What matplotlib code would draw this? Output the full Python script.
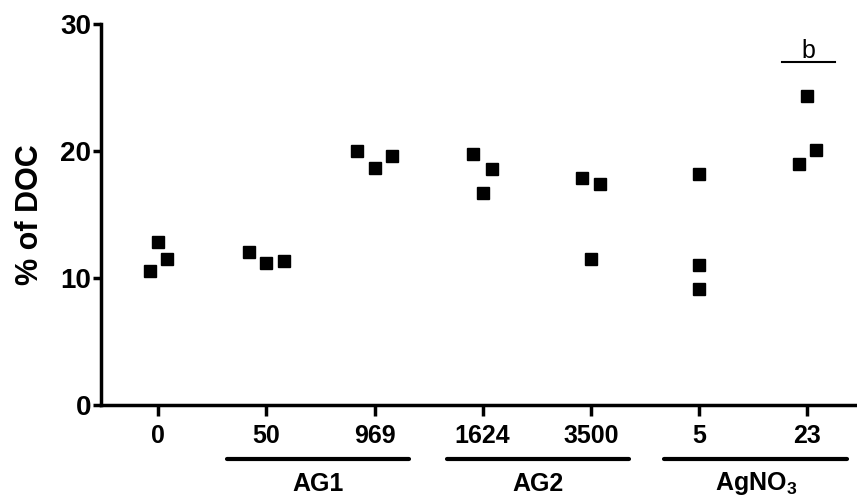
import matplotlib
matplotlib.use('Agg')
import matplotlib.pyplot as plt
import matplotlib.transforms as mtransforms

plt.rcParams['font.family'] = ['Liberation Sans', 'DejaVu Sans']
plt.rcParams['mathtext.fontset'] = 'custom'
plt.rcParams['mathtext.bf'] = 'Liberation Sans:bold'
plt.rcParams['mathtext.rm'] = 'Liberation Sans'

# Data
doses = ['0', '50', '969', '1624', '3500', '5', '23']
values = [
    [10.55, 12.83, 11.49],
    [12.0, 11.21, 11.31],
    [19.98, 18.62, 19.62],
    [19.77, 18.56, 16.71],
    [17.86, 17.42, 11.52],
    [18.15, 11.0, 9.11],
    [24.35, 20.09, 18.99],
]
# horizontal jitter of the replicate points (in category units)
offsets = [
    [-0.075, 0.0, 0.085],
    [-0.16, 0.0, 0.165],
    [-0.16, 0.0, 0.16],
    [-0.085, 0.085, 0.0],
    [-0.085, 0.085, 0.0],
    [0.0, 0.0, 0.0],
    [0.0, 0.085, -0.075],
]
groups = ['AG1', 'AG2', 'AgNO$_\\mathbf{3}$']
group_spans = [(0.64, 2.32), (2.67, 4.35), (4.68, 6.37)]
sig_label = 'b'
sig_span = (5.77, 6.26)
sig_y = 27.0

fig = plt.figure(figsize=(8.57, 4.98), dpi=100)
ax = fig.add_axes([0.118, 0.187, 0.882, 0.765])

for i, (vals, offs) in enumerate(zip(values, offsets)):
    xs = [i + o for o in offs]
    ax.plot(xs, vals, 's', color='black', markersize=8.5, linestyle='none',
            clip_on=False)

ax.set_xlim(-0.527, 6.46)
ax.set_ylim(0, 30)
ax.set_yticks([0, 10, 20, 30])
ax.set_xticks(range(len(doses)))
ax.set_xticklabels(doses)

for side in ['top', 'right']:
    ax.spines[side].set_visible(False)
for side in ['left', 'bottom']:
    ax.spines[side].set_linewidth(2.5)

ax.tick_params(axis='y', length=6, width=2.5, labelsize=20, pad=1)
ax.tick_params(axis='x', length=8, width=2.5, labelsize=18, pad=6)
for lab in ax.get_xticklabels() + ax.get_yticklabels():
    lab.set_fontweight('bold')

ax.set_ylabel('% of DOC', fontsize=22, fontweight='bold')
ax.yaxis.set_label_coords(-0.074, 0.5)

# group brackets under the axis
trans = mtransforms.blended_transform_factory(ax.transData, ax.transAxes)
for name, (x0, x1) in zip(groups, group_spans):
    ax.plot([x0, x1], [-0.142, -0.142], color='black', linewidth=3,
            solid_capstyle='round', transform=trans, clip_on=False)
    ax.text((x0 + x1) / 2, -0.207, name, transform=trans, ha='center',
            va='center', fontsize=18, fontweight='bold')

# significance mark
ax.plot(sig_span, [sig_y, sig_y], color='black', linewidth=1.5, clip_on=False)
ax.text(sum(sig_span) / 2, sig_y + 0.35, sig_label, ha='center', va='baseline',
        fontsize=18)

plt.savefig('out.png', dpi=100)
plt.close()
